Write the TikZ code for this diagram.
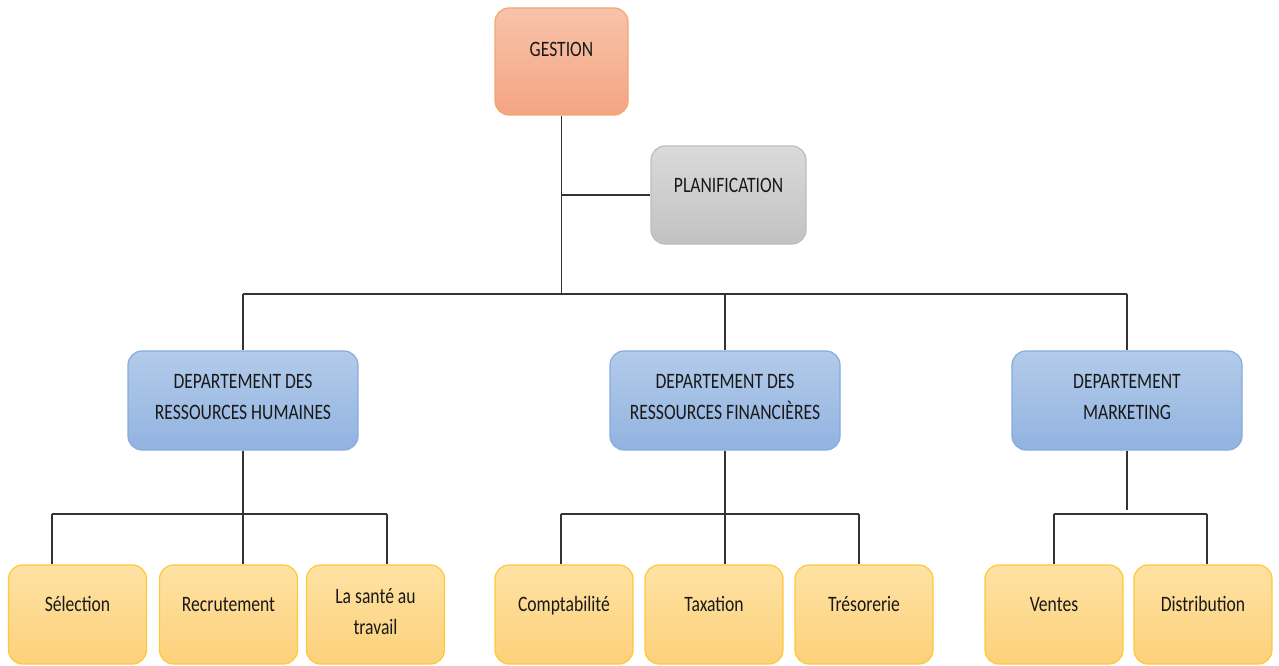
\documentclass[tikz,border=0pt]{standalone}
\usepackage{fontspec}
\setmainfont{Carlito}[FakeStretch=0.8]
\usepackage{xcolor}
\usepackage{tikz}
\usetikzlibrary{positioning}

\definecolor{gestTop}{HTML}{F8C3AB}
\definecolor{gestBot}{HTML}{F4A582}
\definecolor{gestLine}{HTML}{F5A470}
\definecolor{planTop}{HTML}{DADADA}
\definecolor{planBot}{HTML}{C2C2C2}
\definecolor{planLine}{HTML}{BDBDBD}
\definecolor{deptTop}{HTML}{B3CBEA}
\definecolor{deptBot}{HTML}{92B3E0}
\definecolor{deptLine}{HTML}{86ABDD}
\definecolor{leafTop}{HTML}{FEE2A3}
\definecolor{leafBot}{HTML}{FDD17B}
\definecolor{leafLine}{HTML}{FFC83A}

\begin{document}
\begin{tikzpicture}[x=1pt, y=-1pt,
  box/.style={rounded corners=14pt, line width=1.2pt, inner sep=0pt, align=center,
    minimum height=99pt, text=black!90, font=\fontsize{22}{31}\selectfont,
    text height=10pt, text depth=16pt},
  twolines/.style={text height=62pt, text depth=22pt},
  gestbox/.style={box, draw=gestLine, top color=gestTop, bottom color=gestBot,
    minimum width=133pt, minimum height=107pt, text depth=19pt},
  planbox/.style={box, draw=planLine, top color=planTop, bottom color=planBot,
    minimum width=155pt, minimum height=98pt},
  deptbox/.style={box, draw=deptLine, top color=deptTop, bottom color=deptBot,
    minimum width=230pt, text height=60pt, text depth=23pt},
  leafbox/.style={box, draw=leafLine, top color=leafTop, bottom color=leafBot,
    minimum width=138pt},
  linkline/.style={line width=1.3pt, draw=black!80}]

\useasboundingbox (0,0) rectangle (1279,666);

\node[gestbox] (gestion) at (561.5,61.5) {GESTION};
\node[planbox] (plan) at (728.5,195) {PLANIFICATION};

\node[deptbox] (dept_rh) at (243,400.5) {DEPARTEMENT DES\\RESSOURCES HUMAINES};
\node[deptbox] (dept_fin) at (725,400.5) {DEPARTEMENT DES\\RESSOURCES FINANCIÈRES};
\node[deptbox] (dept_mkt) at (1127,400.5) {DEPARTEMENT\\MARKETING};

\node[leafbox] (leaf_sel) at (77.5,614.5) {Sélection};
\node[leafbox] (leaf_rec) at (228.5,614.5) {Recrutement};
\node[leafbox, twolines] (leaf_sante) at (375.5,614.5) {La santé au\\travail};
\node[leafbox] (leaf_compta) at (564,614.5) {Comptabilité};
\node[leafbox] (leaf_tax) at (714,614.5) {Taxation};
\node[leafbox] (leaf_treso) at (864,614.5) {Trésorerie};
\node[leafbox] (leaf_ventes) at (1054,614.5) {Ventes};
\node[leafbox] (leaf_distri) at (1203,614.5) {Distribution};

\coordinate (hub) at (561,294);
\coordinate (rh_l) at (52,514);
\coordinate (rh_r) at (387,514);
\coordinate (fin_l) at (561,514);
\coordinate (fin_r) at (859,514);
\coordinate (mkt_l) at (1054,514);
\coordinate (mkt_r) at (1207,514);
\coordinate (mkt_stub) at (1133,510);

\draw[linkline] (gestion.south) -- (gestion.south |- hub);
\draw[linkline] (gestion.south |- plan.west) -- (plan.west);
\draw[linkline] (dept_rh.north |- hub) -- (dept_mkt.north |- hub);
\draw[linkline] (dept_rh.north |- hub) -- (dept_rh.north);
\draw[linkline] (dept_fin.north |- hub) -- (dept_fin.north);
\draw[linkline] (dept_mkt.north |- hub) -- (dept_mkt.north);

\draw[linkline] (rh_l) -- (rh_r);
\draw[linkline] (dept_rh.south) -- (dept_rh.south |- leaf_rec.north);
\draw[linkline] (rh_l) -- (rh_l |- leaf_sel.north);
\draw[linkline] (rh_r) -- (rh_r |- leaf_sante.north);

\draw[linkline] (fin_l) -- (fin_r);
\draw[linkline] (dept_fin.south) -- (dept_fin.south |- leaf_tax.north);
\draw[linkline] (fin_l) -- (fin_l |- leaf_compta.north);
\draw[linkline] (fin_r) -- (fin_r |- leaf_treso.north);

\draw[linkline] (mkt_l) -- (mkt_r);
\draw[linkline] (dept_mkt.south) -- (dept_mkt.south |- mkt_stub);
\draw[linkline] (mkt_l) -- (mkt_l |- leaf_ventes.north);
\draw[linkline] (mkt_r) -- (mkt_r |- leaf_distri.north);

\end{tikzpicture}
\end{document}
